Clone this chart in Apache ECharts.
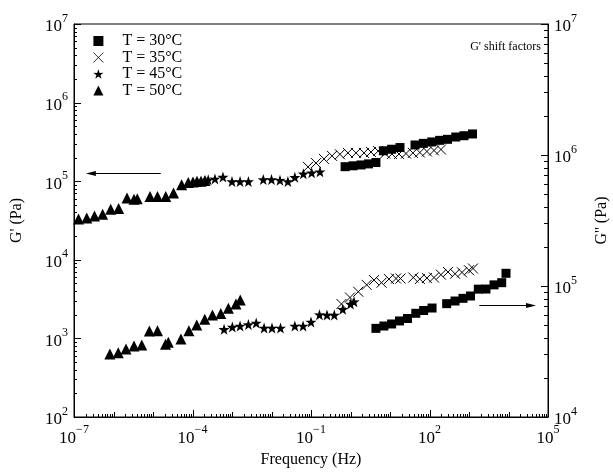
<!DOCTYPE html>
<html><head><meta charset="utf-8">
<script src="https://cdn.jsdelivr.net/npm/echarts@6/dist/echarts.min.js"></script>
<style>html,body{margin:0;padding:0;background:#fff}#c{width:613px;height:474px}</style>
</head><body><div id="c"></div>
<script>
// ---- data: G' (left axis) ----
const f30_Gp = [0.73,1.16,1.85,2.86,4.4,6.8,11,17.9,43,70,114,181,286,463,747,1227];
const v30_Gp = [1.53e5,1.57e5,1.61e5,1.66e5,1.73e5,2.44e5,2.55e5,2.68e5,2.89e5,3.03e5,3.16e5,3.31e5,3.41e5,3.65e5,3.79e5,3.99e5];
const f35_Gp = [0.084,0.134,0.213,0.34,0.54,0.86,1.38,2.2,3.3,5.0,7.5,11.2,16.9,25.4,38,57,86,130,195];
const v35_Gp = [1.52e5,1.7e5,1.92e5,2.1e5,2.2e5,2.29e5,2.29e5,2.29e5,2.35e5,2.42e5,2.25e5,2.22e5,2.22e5,2.25e5,2.29e5,2.32e5,2.39e5,2.46e5,2.53e5];
const f45_Gp = [2.5e-4,3.7e-4,5.9e-4,1.0e-3,1.6e-3,2.6e-3,6.2e-3,1.0e-2,1.64e-2,2.6e-2,3.9e-2,6.4e-2,0.104,0.169];
const v45_Gp = [1.04e5,1.07e5,1.13e5,9.9e4,9.9e4,9.9e4,1.05e5,1.05e5,1.03e5,9.9e4,1.12e5,1.24e5,1.28e5,1.32e5];
const f50_Gp = [1.3e-7,2.1e-7,3.3e-7,5.3e-7,8.5e-7,1.35e-6,2.2e-6,3.3e-6,4.0e-6,8.4e-6,1.3e-5,2.1e-5,3.3e-5,5.3e-5,7.8e-5,1.03e-4,1.3e-4,1.64e-4,2.07e-4];
const v50_Gp = [3.3e4,3.4e4,3.6e4,3.8e4,4.4e4,4.5e4,6.1e4,5.9e4,6.0e4,6.4e4,6.4e4,6.4e4,7.1e4,9.0e4,9.6e4,9.8e4,1.0e5,1.0e5,1.02e5];
// ---- data: G'' (right axis) ----
const f30_Gpp = [4.4,7.0,11.0,17.4,27.7,45,71,116,272,443,705,1090,1720,2690,4300,6730,8650];
const v30_Gpp = [4.75e4,4.95e4,5.13e4,5.41e4,5.65e4,6.19e4,6.5e4,6.79e4,7.33e4,7.68e4,8.05e4,8.39e4,9.46e4,9.48e4,1.02e5,1.06e5,1.25e5];
const f35_Gpp = [0.59,0.97,1.57,2.57,3.94,6.1,9.4,14.2,18.4,38.9,57,86,130,195,294,443,665,1000,1262];
const v35_Gpp = [7.29e4,8.17e4,9.04e4,1.02e5,1.11e5,1.06e5,1.13e5,1.14e5,1.14e5,1.16e5,1.13e5,1.15e5,1.16e5,1.22e5,1.28e5,1.24e5,1.27e5,1.32e5,1.36e5];
const f45_Gpp = [6.3e-4,1.02e-3,1.6e-3,2.6e-3,4.1e-3,6.5e-3,1.03e-2,1.69e-2,3.9e-2,6.3e-2,0.1,0.164,0.254,0.389,0.635,1.0,1.23];
const v45_Gpp = [4.67e4,4.86e4,4.95e4,5.08e4,5.22e4,4.78e4,4.78e4,4.78e4,4.95e4,4.95e4,5.31e4,6.04e4,6.0e4,6.0e4,6.64e4,7.29e4,7.59e4];
const f50_Gpp = [8.1e-7,1.32e-6,2.07e-6,3.3e-6,5.2e-6,8.1e-6,1.3e-5,2.07e-5,2.44e-5,5.1e-5,8.1e-5,1.28e-4,2.04e-4,3.2e-4,5.2e-4,8.1e-4,1.26e-3,1.62e-3];
const v50_Gpp = [3.03e4,3.1e4,3.3e4,3.48e4,3.55e4,4.53e4,4.56e4,3.59e4,3.72e4,3.94e4,4.56e4,5.04e4,5.57e4,6.0e4,6.17e4,6.76e4,7.29e4,7.82e4];

const names = ['T = 30°C','T = 35°C','T = 45°C','T = 50°C'];
// annotation arrows (data coordinates)
const arrowLeft = {from:[1.57e-5,1.26e5], to:[2.0e-7,1.26e5], axis:0};
const arrowRight = {from:[1820,7.12e4], to:[4.97e4,7.12e4], axis:1};

const FONT = '"Liberation Serif","Times New Roman",serif';
const STAR = 'path://M50,0L61.8,35.1L97.6,34.5L69.1,56.7L79.4,90.9L50,70L20.6,90.9L30.9,56.7L2.4,34.5L38.2,35.1Z';
const CROSS = 'path://M0,0L10,10M0,10L10,0';

function pairs(xs, ys){ return xs.map((x,i)=>[x, ys[i]]); }
function expOf(v){ return Math.round(Math.log10(v)); }
function sup(v){ const e = expOf(v); return '{b|10}{s|' + (e<0 ? '\u2212'+(-e) : e) + '}'; }
const rich = {
  b:{fontFamily:FONT,fontSize:17,color:'#000',lineHeight:23,verticalAlign:'bottom'},
  s:{fontFamily:FONT,fontSize:12,color:'#000',verticalAlign:'top',lineHeight:12}
};

const styleFor = [
  {symbol:'rect', symbolSize:9, itemStyle:{color:'#000', opacity:1}},
  {symbol:CROSS, symbolSize:10, itemStyle:{color:'transparent', borderColor:'#000', borderWidth:1, opacity:1}},
  {symbol:STAR, symbolSize:11, itemStyle:{color:'#000', opacity:1}},
  {symbol:'triangle', symbolSize:11, itemStyle:{color:'#000', opacity:1}}
];
const gpData = [pairs(f30_Gp,v30_Gp), pairs(f35_Gp,v35_Gp), pairs(f45_Gp,v45_Gp), pairs(f50_Gp,v50_Gp)];
const gppData = [pairs(f30_Gpp,v30_Gpp), pairs(f35_Gpp,v35_Gpp), pairs(f45_Gpp,v45_Gpp), pairs(f50_Gpp,v50_Gpp)];

const series = [];
for (let i=0;i<4;i++){
  series.push(Object.assign({name:names[i], type:'scatter', xAxisIndex:0, yAxisIndex:0, data:gpData[i], animation:false}, JSON.parse(JSON.stringify(styleFor[i]))));
  series.push(Object.assign({name:names[i], type:'scatter', xAxisIndex:0, yAxisIndex:1, data:gppData[i], animation:false}, JSON.parse(JSON.stringify(styleFor[i]))));
}

const chart = echarts.init(document.getElementById('c'), null, {renderer:'canvas'});
const axisLineStyle = {show:true, lineStyle:{color:'#000', width:1}};
chart.setOption({
  animation:false,
  backgroundColor:'#fff',
  grid:{left:74, right:65, top:24, bottom:57, containLabel:false, outerBoundsMode:'none', show:true, borderColor:'#000', borderWidth:1},
  legend:{
    data:[{name:names[0]},{name:names[1], itemStyle:{borderWidth:0.8}},{name:names[2]},{name:names[3]}],
    orient:'vertical', left:88, top:28, itemWidth:10, itemHeight:10, itemGap:0.5,
    itemStyle:{opacity:1},
    textStyle:{fontFamily:FONT, fontSize:16, lineHeight:16, color:'#000', padding:[0,0,0,14]}
  },
  xAxis:{
    type:'log', logBase:10, min:1e-7, max:1e5, interval:3,
    axisLine:axisLineStyle, axisTick:{show:false}, splitLine:{show:false},
    axisLabel:{interval:0, margin:7, formatter:function(v){ const e=expOf(v); return (((e+7)%3)+3)%3===0 ? sup(v) : ''; }, rich:rich},
    name:'Frequency (Hz)', nameLocation:'middle', nameGap:31,
    nameTextStyle:{fontFamily:FONT, fontSize:16, color:'#000'}
  },
  yAxis:[
    {type:'log', logBase:10, min:1e2, max:1e7, position:'left',
     axisLine:axisLineStyle, axisTick:{show:false}, splitLine:{show:false},
     axisLabel:{margin:6, formatter:sup, rich:rich},
     name:"G' (Pa)", nameLocation:'middle', nameGap:49, nameRotate:90,
     nameTextStyle:{fontFamily:FONT, fontSize:16, color:'#000'}},
    {type:'log', logBase:10, min:1e4, max:1e7, position:'right',
     axisLine:axisLineStyle, axisTick:{show:false}, splitLine:{show:false},
     axisLabel:{margin:6, formatter:sup, rich:rich},
     name:"G'' (Pa)", nameLocation:'middle', nameGap:46, nameRotate:90,
     nameTextStyle:{fontFamily:FONT, fontSize:16, color:'#000'}}
  ],
  series:series
});

function px(v){ return chart.convertToPixel({xAxisIndex:0}, v); }
function py(i,v){ return chart.convertToPixel({yAxisIndex:i}, v); }
const g = [];
function line(x1,y1,x2,y2){ g.push({type:'line', silent:true, shape:{x1:x1,y1:y1,x2:x2,y2:y2}, style:{stroke:'#000', lineWidth:1}}); }
const xb = py(0,1e2), xl = px(1e-7), xr = px(1e5);
// x ticks
for (let e=-7;e<=5;e++){
  for (let m=1;m<=9;m++){
    if (e===5 && m>1) break;
    const x = Math.round(px(m*Math.pow(10,e)))+0.5;
    let len = 3;
    if (m===1) len = (((e+7)%3)+3)%3===0 ? 7 : 5;
    line(x, xb, x, xb-len);
  }
}
// left y ticks
for (let e=2;e<=7;e++){
  for (let m=1;m<=9;m++){
    if (e===7 && m>1) break;
    const y = Math.round(py(0,m*Math.pow(10,e)))+0.5;
    line(xl, y, xl+(m===1?7:3), y);
  }
}
// right y ticks
for (let e=4;e<=7;e++){
  for (let m=1;m<=9;m++){
    if (e===7 && m>1) break;
    const y = Math.round(py(1,m*Math.pow(10,e)))+0.5;
    line(xr, y, xr-(m===1?7:4), y);
  }
}
// arrows
function arrow(a){
  const x1 = px(a.from[0]), x2 = px(a.to[0]), y = Math.round(py(a.axis,a.from[1]))+0.5;
  const dir = x2 > x1 ? 1 : -1;
  line(x1, y, x2 - dir*8, y);
  g.push({type:'polygon', silent:true, shape:{points:[[x2,y],[x2-dir*10,y-2.5],[x2-dir*10,y+2.5]]}, style:{fill:'#000'}});
}
arrow(arrowLeft); arrow(arrowRight);
g.push({type:'text', silent:true, style:{text:"G' shift factors", x:xr-7, y:py(0,1e7)+23, align:'right', verticalAlign:'middle', font:'12px '+FONT, fill:'#000'}});
chart.setOption({graphic:g});
</script></body></html>
